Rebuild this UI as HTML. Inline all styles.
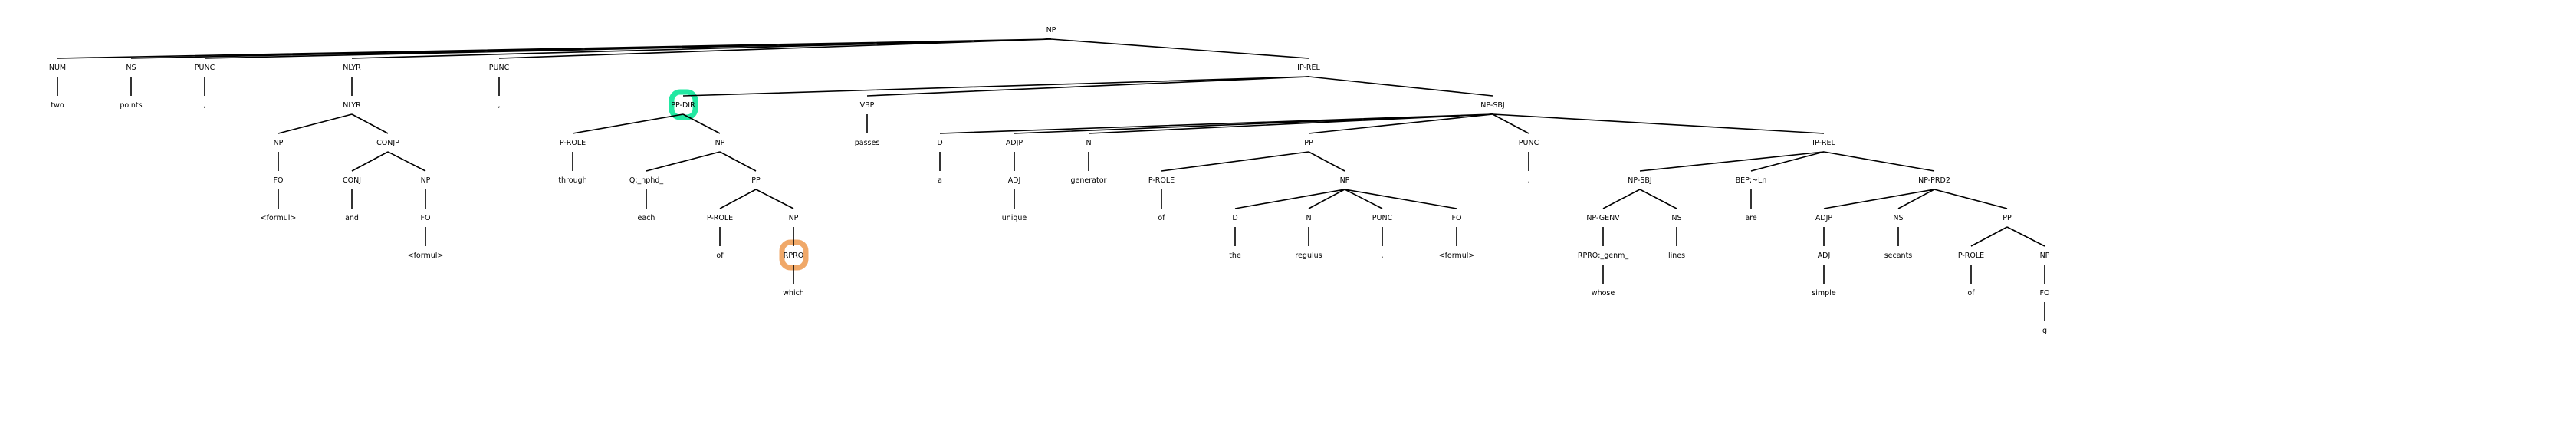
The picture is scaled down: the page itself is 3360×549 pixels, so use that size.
<!DOCTYPE html>
<html><head><meta charset="utf-8"><style>
html,body{margin:0;padding:0;background:#fff;width:3360px;height:549px;overflow:hidden}
svg text{font-family:"DejaVu Sans","Liberation Sans",sans-serif;font-size:9.5px;fill:#000;text-anchor:middle}
</style></head><body>
<svg width="3360" height="549" xmlns="http://www.w3.org/2000/svg">
<rect x="876" y="120" width="31" height="33" rx="11" fill="none" stroke="#22e8a2" stroke-width="7"/>
<rect x="1020" y="316" width="31" height="33" rx="11" fill="none" stroke="#f0a868" stroke-width="7"/>
<g stroke="#000" stroke-width="1.6" fill="none">
<!-- L0-L1 -->
<path d="M1371 51L75 76M1371 51L171 76M1371 51L267 76M1371 51L459 76M1371 51L651 76M1371 51L1707 76"/>
<!-- L1-L2 -->
<path d="M75 100L75 125M171 100L171 125M267 100L267 125M459 100L459 125M651 100L651 125M1707 100L891 125M1707 100L1131 125M1707 100L1947 125"/>
<!-- L2-L3 -->
<path d="M459 149L363 174M459 149L506 174M891 149L747 174M891 149L939 174M1131 149L1131 174M1947 149L1226 174M1947 149L1323 174M1947 149L1420 174M1947 149L1707 174M1947 149L1994 174M1947 149L2379 174"/>
<!-- L3-L4 -->
<path d="M363 198L363 223M506 198L459 223M506 198L555 223M747 198L747 223M939 198L843 223M939 198L986 223M1226 198L1226 223M1323 198L1323 223M1420 198L1420 223M1707 198L1515 223M1707 198L1754 223M1994 198L1994 223M2379 198L2139 223M2379 198L2284 223M2379 198L2523 223"/>
<!-- L4-L5 -->
<path d="M363 247L363 272M459 247L459 272M555 247L555 272M843 247L843 272M986 247L939 272M986 247L1035 272M1323 247L1323 272M1515 247L1515 272M1754 247L1611 272M1754 247L1707 272M1754 247L1803 272M1754 247L1900 272M2139 247L2091 272M2139 247L2187 272M2284 247L2284 272M2523 247L2379 272M2523 247L2476 272M2523 247L2618 272"/>
<!-- L5-L6 -->
<path d="M555 296L555 321M939 296L939 321M1035 296L1035 321M1611 296L1611 321M1707 296L1707 321M1803 296L1803 321M1900 296L1900 321M2091 296L2091 321M2187 296L2187 321M2379 296L2379 321M2476 296L2476 321M2618 296L2571 321M2618 296L2667 321"/>
<!-- L6-L7 -->
<path d="M1035 345L1035 370M2091 345L2091 370M2379 345L2379 370M2571 345L2571 370M2667 345L2667 370"/>
<!-- L7-L8 -->
<path d="M2667 394L2667 419"/>
</g>
<g>
<text x="1371" y="42">NP</text>
<text x="75" y="91">NUM</text><text x="171" y="91">NS</text><text x="267" y="91">PUNC</text><text x="459" y="91">NLYR</text><text x="651" y="91">PUNC</text><text x="1707" y="91">IP-REL</text>
<text x="75" y="140">two</text><text x="171" y="140">points</text><text x="267" y="140">,</text><text x="459" y="140">NLYR</text><text x="651" y="140">,</text><text x="891" y="140">PP-DIR</text><text x="1131" y="140">VBP</text><text x="1947" y="140">NP-SBJ</text>
<text x="363" y="189">NP</text><text x="506" y="189">CONJP</text><text x="747" y="189">P-ROLE</text><text x="939" y="189">NP</text><text x="1131" y="189">passes</text><text x="1226" y="189">D</text><text x="1323" y="189">ADJP</text><text x="1420" y="189">N</text><text x="1707" y="189">PP</text><text x="1994" y="189">PUNC</text><text x="2379" y="189">IP-REL</text>
<text x="363" y="238">FO</text><text x="459" y="238">CONJ</text><text x="555" y="238">NP</text><text x="747" y="238">through</text><text x="843" y="238">Q;_nphd_</text><text x="986" y="238">PP</text><text x="1226" y="238">a</text><text x="1323" y="238">ADJ</text><text x="1420" y="238">generator</text><text x="1515" y="238">P-ROLE</text><text x="1754" y="238">NP</text><text x="1994" y="238">,</text><text x="2139" y="238">NP-SBJ</text><text x="2284" y="238">BEP;~Ln</text><text x="2523" y="238">NP-PRD2</text>
<text x="363" y="287">&lt;formul&gt;</text><text x="459" y="287">and</text><text x="555" y="287">FO</text><text x="843" y="287">each</text><text x="939" y="287">P-ROLE</text><text x="1035" y="287">NP</text><text x="1323" y="287">unique</text><text x="1515" y="287">of</text><text x="1611" y="287">D</text><text x="1707" y="287">N</text><text x="1803" y="287">PUNC</text><text x="1900" y="287">FO</text><text x="2091" y="287">NP-GENV</text><text x="2187" y="287">NS</text><text x="2284" y="287">are</text><text x="2379" y="287">ADJP</text><text x="2476" y="287">NS</text><text x="2618" y="287">PP</text>
<text x="555" y="336">&lt;formul&gt;</text><text x="939" y="336">of</text><text x="1035" y="336">RPRO</text><text x="1611" y="336">the</text><text x="1707" y="336">regulus</text><text x="1803" y="336">,</text><text x="1900" y="336">&lt;formul&gt;</text><text x="2091" y="336">RPRO;_genm_</text><text x="2187" y="336">lines</text><text x="2379" y="336">ADJ</text><text x="2476" y="336">secants</text><text x="2571" y="336">P-ROLE</text><text x="2667" y="336">NP</text>
<text x="1035" y="385">which</text><text x="2091" y="385">whose</text><text x="2379" y="385">simple</text><text x="2571" y="385">of</text><text x="2667" y="385">FO</text>
<text x="2667" y="434">g</text>
</g>
</svg>
</body></html>
